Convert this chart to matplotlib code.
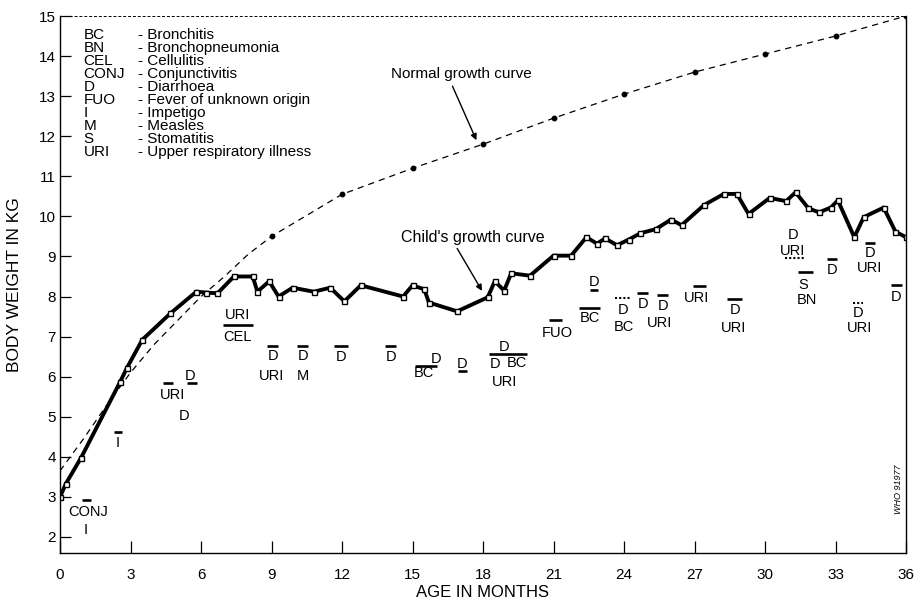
import matplotlib
matplotlib.use("Agg")
import matplotlib.pyplot as plt

plt.rcParams["font.family"] = ["Liberation Sans", "DejaVu Sans"]

# child's weight record (months, kg)
child_months = [0, 0.25, 0.9, 2.55, 2.85, 3.5, 4.7, 5.8, 6.2, 6.7, 7.4, 8.2, 8.4,
                8.9, 9.3, 9.9, 10.8, 11.5, 12.1, 12.8, 14.6, 15.0, 15.5, 15.7,
                16.9, 18.2, 18.5, 18.9, 19.2, 20.0, 21.0, 21.75, 22.4, 22.85,
                23.2, 23.7, 24.2, 24.7, 25.35, 26.0, 26.45, 27.4, 28.25, 28.8,
                29.3, 30.2, 30.9, 31.3, 31.85, 32.3, 32.8, 33.1, 33.8, 34.2,
                35.05, 35.55, 36.0]
child_weights = [3.0, 3.33, 3.98, 5.86, 6.22, 6.92, 7.58, 8.12, 8.1, 8.08, 8.5,
                 8.5, 8.12, 8.38, 8.0, 8.22, 8.12, 8.22, 7.88, 8.28, 8.0, 8.28,
                 8.18, 7.85, 7.63, 7.98, 8.38, 8.15, 8.58, 8.52, 9.02, 9.02,
                 9.48, 9.32, 9.45, 9.28, 9.42, 9.58, 9.68, 9.92, 9.78, 10.28,
                 10.56, 10.56, 10.06, 10.46, 10.38, 10.6, 10.2, 10.1, 10.22,
                 10.4, 9.48, 9.98, 10.22, 9.62, 9.48]

# normal growth curve
normal_months = [0, 1, 2, 3, 4, 5, 6, 7, 8, 9, 12, 15, 18, 21, 24, 27, 30, 33, 36]
normal_weights = [3.65, 4.45, 5.3, 6.1, 6.8, 7.4, 8.0, 8.5, 9.05, 9.5, 10.55,
                  11.2, 11.8, 12.45, 13.05, 13.6, 14.05, 14.5, 15.0]
normal_dot_months = [9, 12, 15, 18, 21, 24, 27, 30, 33, 36]
normal_dot_weights = [9.5, 10.55, 11.2, 11.8, 12.45, 13.05, 13.6, 14.05, 14.5, 15.0]

abbrevs = ["BC", "BN", "CEL", "CONJ", "D", "FUO", "I", "M", "S", "URI"]
meanings = ["Bronchitis", "Bronchopneumonia", "Cellulitis", "Conjunctivitis",
            "Diarrhoea", "Fever of unknown origin", "Impetigo", "Measles",
            "Stomatitis", "Upper respiratory illness"]

# illness episode labels (text, month, kg)
episodes = [
    ("CONJ", 1.19, 2.63), ("I", 1.11, 2.18), ("I", 2.47, 4.35),
    ("URI", 4.81, 5.55), ("D", 5.53, 6.02), ("D", 5.28, 5.03),
    ("URI", 7.57, 7.54), ("CEL", 7.57, 7.0),
    ("D", 9.06, 6.52), ("URI", 9.02, 6.02),
    ("D", 10.34, 6.52), ("M", 10.34, 6.02),
    ("D", 11.96, 6.5), ("D", 14.09, 6.5),
    ("D", 16.0, 6.45), ("BC", 15.49, 6.1), ("D", 17.1, 6.32),
    ("D", 18.9, 6.75), ("D", 18.5, 6.32), ("BC", 19.45, 6.35), ("URI", 18.9, 5.87),
    ("FUO", 21.15, 7.09),
    ("D", 22.72, 8.37), ("BC", 22.55, 7.47),
    ("D", 23.96, 7.67), ("BC", 24.0, 7.24),
    ("D", 24.8, 7.82), ("D", 25.66, 7.77), ("URI", 25.53, 7.34),
    ("URI", 27.1, 7.97),
    ("D", 28.72, 7.67), ("URI", 28.68, 7.22),
    ("D", 31.19, 9.54), ("URI", 31.19, 9.14), ("S", 31.62, 8.29), ("BN", 31.79, 7.92),
    ("D", 32.85, 8.67),
    ("D", 34.47, 9.09), ("URI", 34.43, 8.72),
    ("D", 33.96, 7.59), ("URI", 34.04, 7.22),
    ("D", 35.57, 7.99),
]

# bars over/under labels (start month, end month, kg, dotted)
bars = [
    (0.95, 1.3, 2.92, False), (2.3, 2.65, 4.62, False), (4.38, 4.81, 5.85, False),
    (5.4, 5.83, 5.83, False), (6.94, 8.21, 7.3, False), (8.81, 9.28, 6.77, False),
    (10.09, 10.55, 6.77, False), (11.66, 12.26, 6.77, False),
    (13.83, 14.3, 6.77, False), (15.1, 16.04, 6.27, False),
    (16.94, 17.32, 6.14, False), (18.26, 19.87, 6.56, False),
    (20.8, 21.36, 7.42, False), (22.55, 22.9, 8.17, False),
    (22.1, 22.98, 7.72, False), (23.62, 24.26, 7.96, True),
    (24.55, 25.02, 8.1, False), (25.4, 25.87, 8.04, False),
    (26.94, 27.49, 8.26, False), (28.38, 29.0, 7.94, False),
    (30.85, 31.7, 8.95, True), (31.4, 32.04, 8.6, False),
    (32.64, 33.06, 8.94, False), (34.26, 34.68, 9.34, False),
    (33.74, 34.17, 7.84, True), (35.36, 35.83, 8.28, False),
]

fig = plt.figure(figsize=(9.19, 6.05), dpi=100)
ax = fig.add_axes([60 / 919, 1 - 553 / 605, 846 / 919, 537 / 605])

ax.plot(normal_months, normal_weights, color="black", lw=0.9, ls=(0, (5, 4)))
ax.plot(normal_dot_months, normal_dot_weights, "o", color="black", ms=3.2)
ax.plot(child_months, child_weights, color="black", lw=2.8, marker="s", ms=3.6,
        mfc="white", mec="black", mew=1.0)

for text, m, kg in episodes:
    ax.text(m, kg, text, ha="center", va="center", fontsize=10.5)
for m0, m1, kg, dotted in bars:
    ax.plot([m0, m1], [kg, kg], color="black", lw=1.9 if not dotted else 1.5,
            ls=(0, (1, 1)) if dotted else "-", solid_capstyle="butt")

for i, (ab, mean) in enumerate(zip(abbrevs, meanings)):
    y = 14.52 - i * 0.325
    ax.text(1.0, y, ab, ha="left", va="center", fontsize=11)
    ax.text(3.3, y, "- " + mean, ha="left", va="center", fontsize=11)

ax.text(17.1, 13.56, "Normal growth curve", ha="center", va="center", fontsize=11)
ax.annotate("", xy=(17.72, 11.9), xytext=(16.7, 13.25),
            arrowprops=dict(arrowstyle="-|>", color="black", lw=1.0,
                            shrinkA=0, shrinkB=0, mutation_scale=9))
ax.text(17.55, 9.48, "Child's growth curve", ha="center", va="center", fontsize=11.5)
ax.annotate("", xy=(17.96, 8.14), xytext=(16.9, 9.2),
            arrowprops=dict(arrowstyle="-|>", color="black", lw=1.0,
                            shrinkA=0, shrinkB=0, mutation_scale=9))

ax.text(35.67, 3.2, "WHO 91977", rotation=90, ha="center", va="center",
        fontsize=6.5, style="italic")

ax.set_xlim(0, 36)
ax.set_ylim(1.6, 15)
ax.set_xticks(range(0, 37, 3))
ax.set_yticks(range(2, 16))
ax.tick_params(direction="in", length=9, width=0.9, labelsize=11, pad=11)
ax.tick_params(axis="y", length=8, pad=3)
for side in ["left", "right", "bottom"]:
    ax.spines[side].set_linewidth(1.0)
ax.spines["top"].set_linewidth(0.7)
ax.spines["top"].set_linestyle((0, (2, 3)))
ax.set_xlabel("AGE IN MONTHS", fontsize=12, labelpad=2)
ax.set_ylabel("BODY WEIGHT IN KG", fontsize=12.5, labelpad=12)

fig.savefig("out.png", dpi=100)
